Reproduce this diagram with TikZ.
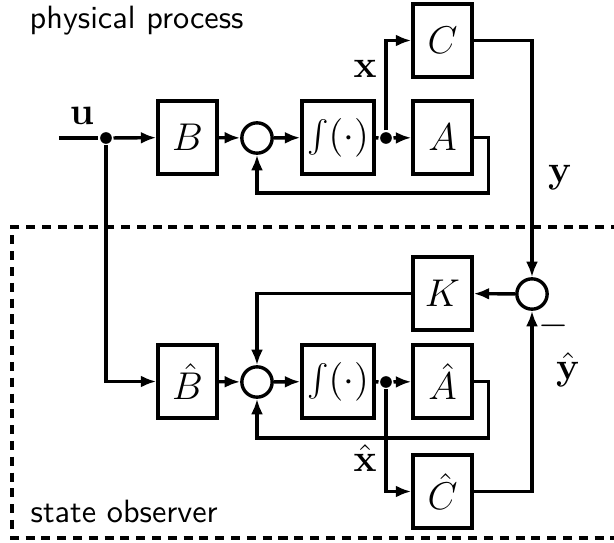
\documentclass[tikz,border=0pt]{standalone}
\usetikzlibrary{arrows.meta,calc}
\begin{document}
\begin{tikzpicture}[x=0.31pt,y=-0.31pt,
  line width=1.05pt,
  >={Latex[length=4.8pt,width=3.7pt]},
  blk/.style={draw,line width=1.05pt,minimum width=18.3pt,minimum height=22.6pt,inner sep=0pt,font=\large},
  intblk/.style={blk,minimum width=22.3pt},
  sumnode/.style={draw,circle,line width=1.05pt,minimum size=9.4pt,inner sep=0pt},
  junction/.style={circle,fill,inner sep=0pt,minimum size=3.6pt},
  sig/.style={inner sep=0pt,font=\large},
  frametext/.style={font=\sffamily,anchor=base west,inner sep=0pt},
  obsframe/.style={dashed,dash pattern=on 2.8pt off 2.1pt}
]
\useasboundingbox (0,0) rectangle (614,543);

% ---- physical process ----
\node[frametext] (ptitle) at (28,28) {physical process};
\coordinate (uin) at (59,138);
\node[junction] (ju) at (106,138) {};
\node[blk] (B) at (187.5,137.5) {$B$};
\node[sumnode] (s1) at (257,138) {};
\node[intblk] (I1) at (338,137.5) {$\int(\cdot)$};
\node[junction] (jx) at (386,138) {};
\node[blk] (A) at (442.5,137.5) {$A$};
\node[blk] (C) at (442.5,40.5) {$C$};
\node[sig] (lu) at (82,116) {$\mathbf{u}$};
\node[sig] (lx) at (365,69) {$\mathbf{x}$};
\node[sig] (ly) at (560,178) {$\mathbf{y}$};

\draw (uin) -- (ju);
\draw[->] (ju) -- (B);
\draw[->] (B) -- (s1);
\draw[->] (s1) -- (I1);
\draw (I1) -- (jx);
\draw[->] (jx) -- (A);
\draw[->] (jx) |- (C);
\draw[->] (A.east) -- ++(15,0) |- (257,193) -- (s1.south);

% ---- state observer ----
\draw[obsframe] (620,227) -- (12,227) -- (12,538) -- (620,538);
\node[frametext] (otitle) at (29,523) {state observer};

\node[sumnode] (s2) at (532,294) {};
\node[blk] (K) at (442.5,293.5) {$K$};
\node[sig] (lminus) at (554,326) {$-$};
\node[blk] (Bh) at (187.5,381.5) {$\hat{B}$};
\node[sumnode] (s3) at (257,382) {};
\node[intblk] (I2) at (338,381.5) {$\int(\cdot)$};
\node[junction] (jxh) at (386,382) {};
\node[blk] (Ah) at (442.5,381.5) {$\hat{A}$};
\node[blk] (Ch) at (442.5,491.5) {$\hat{C}$};
\node[sig] (lxh) at (365,458) {$\hat{\mathbf{x}}$};
\node[sig] (lyh) at (568,370) {$\hat{\mathbf{y}}$};

\draw[->] (C.east) -| (s2.north);
\draw[->] (s2) -- (K);
\draw[->] (K.west) -| (s3.north);
\draw[->] (ju) |- (Bh);
\draw[->] (Bh) -- (s3);
\draw[->] (s3) -- (I2);
\draw (I2) -- (jxh);
\draw[->] (jxh) -- (Ah);
\draw[->] (jxh) |- (Ch);
\draw[->] (Ah.east) -- ++(15,0) |- (257,438) -- (s3.south);
\draw[->] (Ch.east) -| (s2.south);
\end{tikzpicture}
\end{document}
